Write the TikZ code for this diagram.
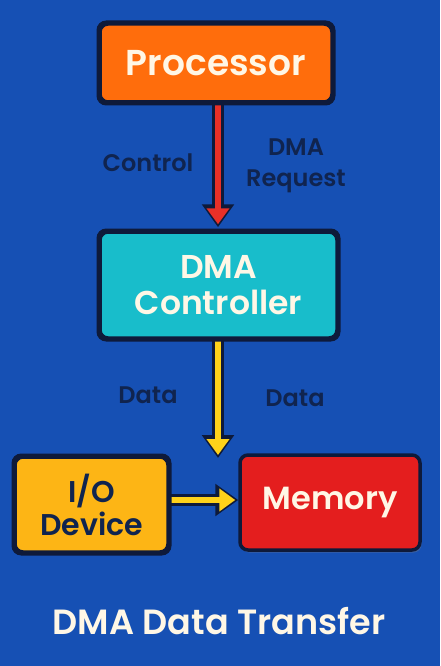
\documentclass[tikz,border=0pt]{standalone}
\usepackage{fontspec}
\setmainfont{Poppins}[BoldFont={Poppins SemiBold}]
\usetikzlibrary{arrows.meta,shadows}
\definecolor{bgblue}{HTML}{1650B4}
\definecolor{outl}{HTML}{0E1A3A}
\definecolor{navytext}{HTML}{10244F}
\definecolor{cream}{HTML}{FFF7E6}
\definecolor{procorange}{HTML}{FF6D0C}
\definecolor{dmacyan}{HTML}{18BDCB}
\definecolor{ioyellow}{HTML}{FDB515}
\definecolor{memred}{HTML}{E41E1E}
\definecolor{arrred}{HTML}{E83028}
\definecolor{arryellow}{HTML}{FFD21A}
\tikzset{
  box/.style={draw=outl, line width=3.5pt, rounded corners=8pt, align=center,
    font=\bfseries, inner sep=0pt,
    drop shadow={opacity=0.35, shadow xshift=1.5pt, shadow yshift=-2.5pt}},
  lbl/.style={text=navytext, font=\bfseries\fontsize{24}{31}\selectfont, align=center, inner sep=0pt},
  outerarrow/.style={draw=outl, line width=12pt, -{Triangle[width=31pt,length=23pt]}},
  innerarrow/.style={draw=#1, line width=6.5pt, -{Triangle[width=22pt,length=16pt]}, shorten >=3pt},
}
\begin{document}
\begin{tikzpicture}[x=1pt,y=-1pt]
\fill[bgblue] (0,0) rectangle (440,666);
\useasboundingbox (0,0) rectangle (440,666);

\node[box, fill=procorange, text=cream, minimum width=232pt, minimum height=78pt,
  font=\bfseries\fontsize{36}{40}\selectfont] (proc) at (216,63) {Processor};
\node[box, fill=dmacyan, text=cream, minimum width=237pt, minimum height=106pt,
  font=\bfseries\fontsize{33}{36}\selectfont] (dma) at (218.5,285) {DMA\\Controller};
\node[box, fill=ioyellow, text=navytext, minimum width=153pt, minimum height=95pt,
  font=\bfseries\fontsize{30}{33}\selectfont] (io) at (91.5,504.5) {I/O\\Device};
\node[box, fill=memred, text=cream, minimum width=180pt, minimum height=95pt,
  font=\bfseries\fontsize{32}{36}\selectfont] (mem) at (330,502.5) {Memory};

\coordinate (d1) at (218,458);

% red arrow processor -> dma
\draw[outerarrow] (proc.south -| 218,0) -- ([yshift=3pt]dma.north -| 218,0);
\draw[innerarrow=arrred] (proc.south -| 218,0) -- ([yshift=3pt]dma.north -| 218,0);
% yellow arrow dma -> data point
\draw[outerarrow] (dma.south -| d1) -- (d1);
\draw[innerarrow=arryellow] (dma.south -| d1) -- (d1);
% yellow arrow io -> memory
\draw[outerarrow] (io.east |- 0,500) -- (mem.west |- 0,500);
\draw[innerarrow=arryellow] (io.east |- 0,500) -- (mem.west |- 0,500);

% redraw box borders over arrow starts
\draw[draw=outl, line width=3.5pt, rounded corners=8pt] (proc.south west) rectangle (proc.north east);
\draw[draw=outl, line width=3.5pt, rounded corners=8pt] (dma.south west) rectangle (dma.north east);
\draw[draw=outl, line width=3.5pt, rounded corners=8pt] (io.south west) rectangle (io.north east);

\node[lbl] (lctrl) at (148,163) {Control};
\node[lbl] (lreq) at (296,166) {DMA\\Request};
\node[lbl] (ldata1) at (148,395) {Data};
\node[lbl] (ldata2) at (295,398) {Data};

\node[text=cream, font=\bfseries\fontsize{35}{40}\selectfont, inner sep=0pt] (title) at (219,621) {DMA Data Transfer};
\end{tikzpicture}
\end{document}
